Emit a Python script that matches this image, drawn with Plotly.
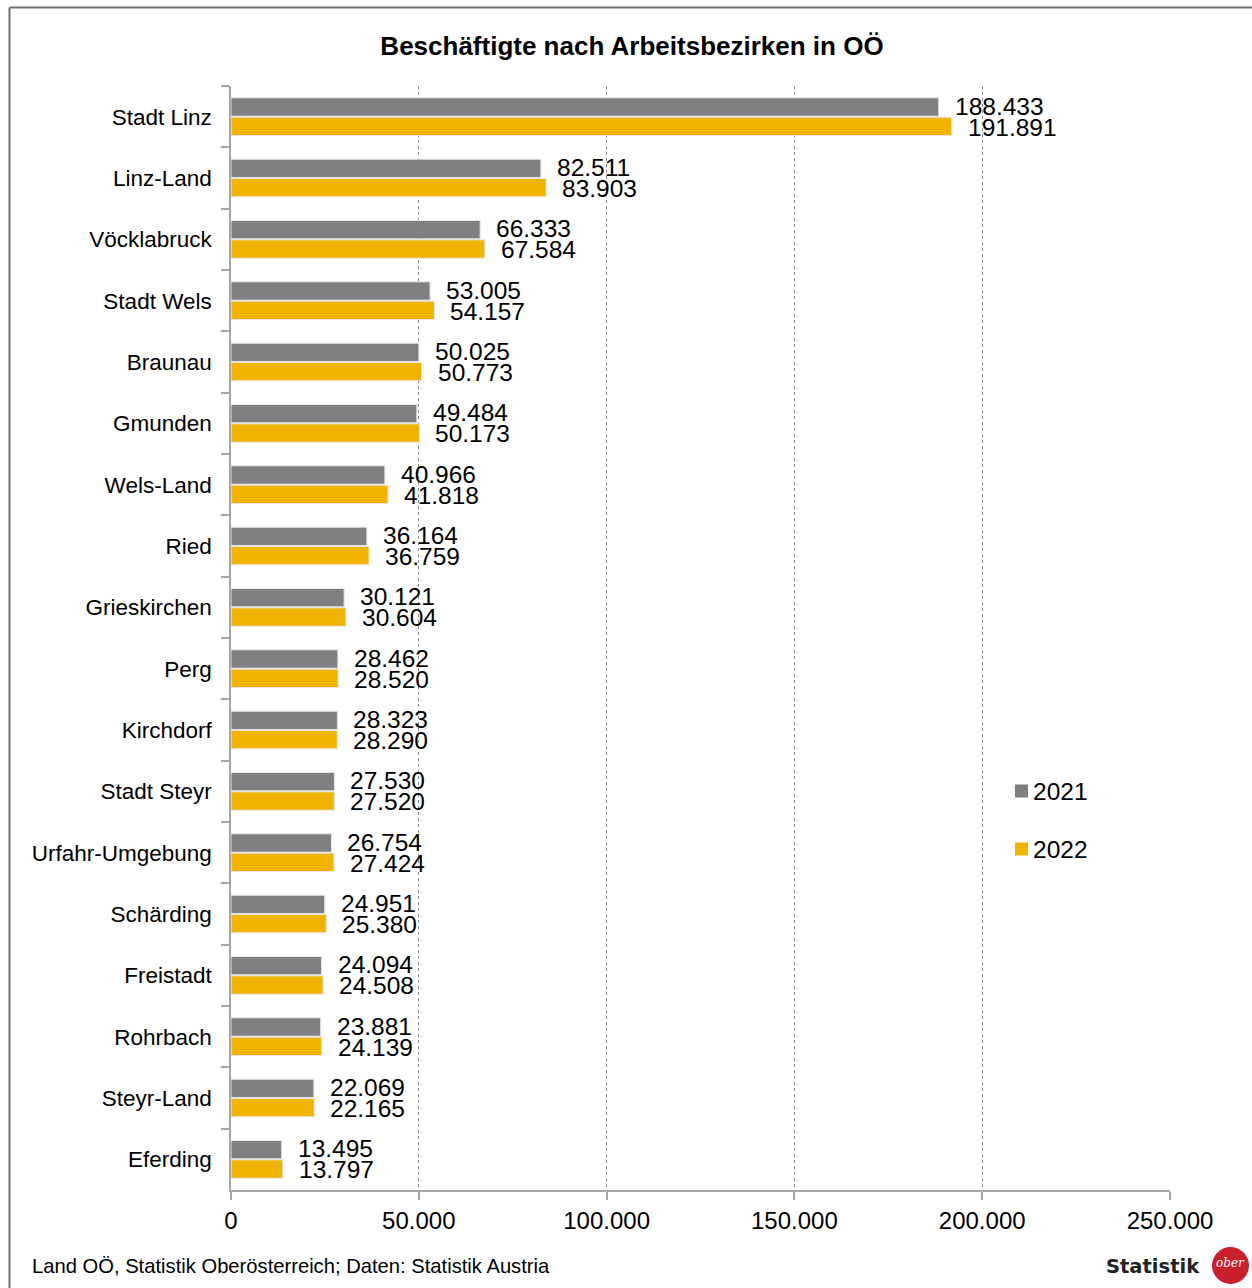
import plotly.graph_objects as go

# ---- data ----
categories = ["Stadt Linz", "Linz-Land", "Vöcklabruck", "Stadt Wels", "Braunau", "Gmunden",
              "Wels-Land", "Ried", "Grieskirchen", "Perg", "Kirchdorf", "Stadt Steyr",
              "Urfahr-Umgebung", "Schärding", "Freistadt", "Rohrbach", "Steyr-Land", "Eferding"]
values_2021 = [188433, 82511, 66333, 53005, 50025, 49484, 40966, 36164, 30121, 28462,
               28323, 27530, 26754, 24951, 24094, 23881, 22069, 13495]
values_2022 = [191891, 83903, 67584, 54157, 50773, 50173, 41818, 36759, 30604, 28520,
               28290, 27520, 27424, 25380, 24508, 24139, 22165, 13797]
series_names = ["2021", "2022"]
x_tick_values = [0, 50000, 100000, 150000, 200000, 250000]

title_text = "Beschäftigte nach Arbeitsbezirken in OÖ"
source_text = "Land OÖ, Statistik Oberösterreich; Daten: Statistik Austria"

# ---- styling ----
W, H = 1252, 1288
L, R, T, B = 231, 82, 86, 98
PW, PH = W - L - R, H - T - B
GRAY = "#808080"
YELLOW = "#f0b400"
FONT = "Liberation Sans, Arial, sans-serif"


def px(xp):
    return (xp - L) / PW


def py(yp):
    return (H - B - yp) / PH


def de_fmt(v):
    return f"{v:,}".replace(",", ".")


fig = go.Figure()
colors = [GRAY, YELLOW]
for name, vals, col in zip(series_names, [values_2021, values_2022], colors):
    fig.add_trace(go.Bar(
        y=categories, x=vals, name=name, orientation="h",
        marker=dict(color=col, line=dict(color="#e6e6e6", width=1)),
        showlegend=False, hoverinfo="x+y+name",
    ))

annotations = []
for vals, shift in [(values_2021, 10.5), (values_2022, -10.5)]:
    for c, v in zip(categories, vals):
        annotations.append(dict(
            x=v, y=c, xref="x", yref="y", text=de_fmt(v), showarrow=False,
            xanchor="left", yanchor="middle", xshift=14, yshift=shift,
            font=dict(family=FONT, size=24.5, color="black"),
        ))

# manual legend
legend_y = [791, 849]
shapes = []
for name, col, ly in zip(series_names, colors, legend_y):
    shapes.append(dict(type="rect", xref="paper", yref="paper",
                       x0=px(1015), x1=px(1028), y0=py(ly + 6.5), y1=py(ly - 6.5),
                       fillcolor=col, line=dict(width=0)))
    annotations.append(dict(x=px(1031), y=py(ly), xref="paper", yref="paper", text=name,
                            showarrow=False, xanchor="left", yanchor="middle",
                            font=dict(family=FONT, size=24.5, color="black")))

# outer border (left + top)
shapes.append(dict(type="line", xref="paper", yref="paper", x0=px(9.5), x1=px(9.5),
                   y0=py(7.5), y1=py(1400), line=dict(color="#6e6e6e", width=2)))
shapes.append(dict(type="line", xref="paper", yref="paper", x0=px(9.5), x1=px(1400),
                   y0=py(7.5), y1=py(7.5), line=dict(color="#6e6e6e", width=2)))

# source text
annotations.append(dict(x=px(30), y=py(1266), xref="paper", yref="paper", text=source_text,
                        showarrow=False, xanchor="left", yanchor="middle",
                        font=dict(family=FONT, size=20.2, color="black")))
# logo
annotations.append(dict(x=px(1202), y=py(1266), xref="paper", yref="paper", text="<b>Statistik</b>",
                        showarrow=False, xanchor="right", yanchor="middle",
                        font=dict(family="DejaVu Sans, sans-serif", size=19.5, color="#222222")))
shapes.append(dict(type="circle", xref="paper", yref="paper", x0=px(1212), x1=px(1249),
                   y0=py(1284), y1=py(1247), fillcolor="#c8202d", line=dict(width=0)))
annotations.append(dict(x=px(1230.5), y=py(1263), xref="paper", yref="paper", text="<i>ober</i>",
                        showarrow=False, xanchor="center", yanchor="middle",
                        font=dict(family="DejaVu Serif, serif", size=12, color="white")))

fig.update_layout(
    width=W, height=H,
    margin=dict(l=L, r=R, t=T, b=B, pad=0),
    paper_bgcolor="white", plot_bgcolor="white",
    barmode="group", bargap=0.37, bargroupgap=0.05,
    separators=",.",
    title=dict(text="<b>" + title_text + "</b>", xref="container", yref="container",
               x=632 / W, y=1 - 46 / H, xanchor="center", yanchor="middle",
               font=dict(family=FONT, size=26, color="black")),
    font=dict(family=FONT, color="black"),
    annotations=annotations, shapes=shapes,
    showlegend=False,
)
fig.update_xaxes(
    range=[0, 250000], tickvals=x_tick_values,
    ticktext=[de_fmt(v) for v in x_tick_values],
    showgrid=True, gridcolor="#8c8c8c", griddash="3px,3px", gridwidth=1,
    zeroline=False, showline=True, linecolor="#a6a6a6", linewidth=2,
    ticks="outside", ticklen=8, tickcolor="#a6a6a6", tickwidth=1.5,
    tickfont=dict(family=FONT, size=24, color="black"), ticklabelstandoff=0,
)
fig.update_yaxes(
    autorange="reversed", type="category",
    showline=True, linecolor="#a6a6a6", linewidth=1.5,
    ticks="outside", ticklen=8, tickcolor="#a6a6a6", tickwidth=1.5, tickson="boundaries",
    tickfont=dict(family=FONT, size=22.5, color="black"), ticklabelstandoff=13,
    showgrid=False, zeroline=False,
)

fig.write_html("out.html")
